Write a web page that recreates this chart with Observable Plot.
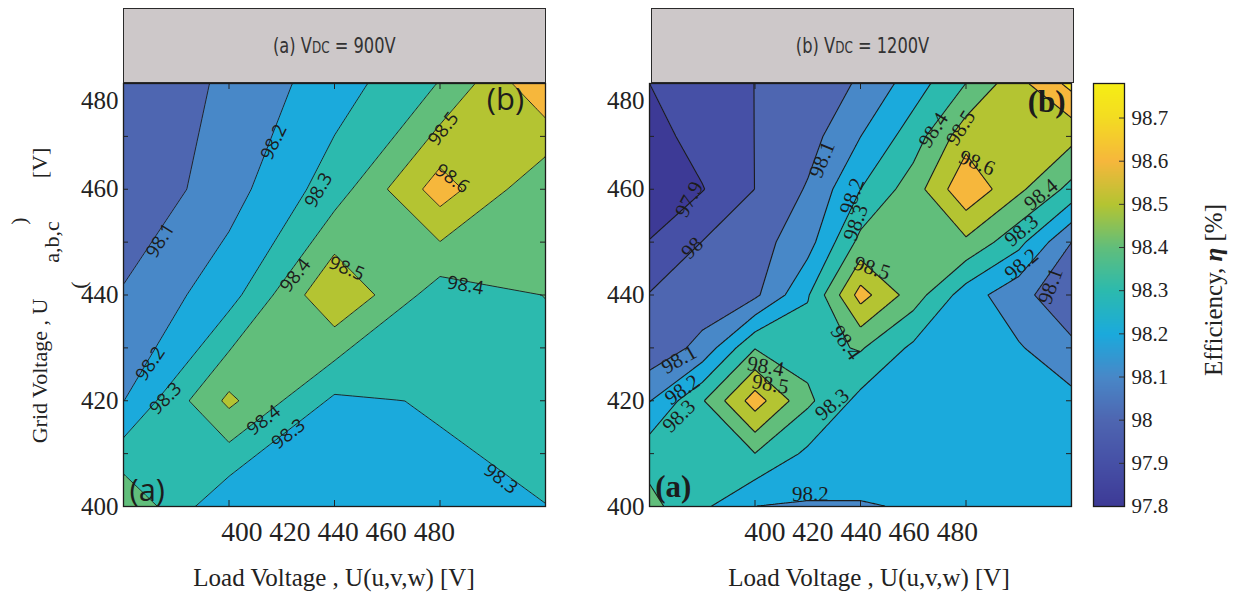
<!DOCTYPE html>
<html><head><meta charset="utf-8">
<script src="https://cdn.jsdelivr.net/npm/d3@7"></script>
<script src="https://cdn.jsdelivr.net/npm/@observablehq/plot@0.6"></script>
<style>
body{margin:0;background:#fff;}
#root{position:relative;width:1234px;height:594px;overflow:hidden;font-family:"Liberation Serif",serif;color:#222;}
#root svg{position:absolute;top:0;}
.pa g[aria-label="y-axis tick label"]{font-family:"Liberation Serif",serif;font-size:25px;}
.cb g[aria-label="y-axis tick label"]{font-family:"Liberation Serif",serif;font-size:21px;}
.hdr{position:absolute;box-sizing:border-box;background:#cdc8c9;border:1.5px solid #2a2a2a;display:flex;align-items:center;justify-content:center;font-family:"Liberation Sans Narrow","DejaVu Sans Condensed","Liberation Sans",sans-serif;font-size:21px;color:#333;}
.hdr span{display:inline-block;transform:scaleX(0.86);}
.hdr small{font-size:0.74em;}
.t{position:absolute;white-space:nowrap;line-height:1;transform:translate(-50%,-50%);}
.r{position:absolute;white-space:nowrap;line-height:1;transform:translate(-50%,-50%) rotate(-90deg);}
</style></head><body><div id="root"></div><script>
// ---------- data ----------
const loadVoltageA = [400, 420, 440, 460, 480];
const gridVoltageA = [400, 420, 440, 460, 480];
// rows = grid voltage (ascending), columns = load voltage (ascending)
const efficiencyA = [
  [98.49, 98.211, 98.25, 98.27, 98.2985],
  [98.198, 98.523, 98.281, 98.3096, 98.35],
  [98.11, 98.26, 98.595, 98.347, 98.402],
  [98.01, 98.16, 98.35, 98.65, 98.415],
  [98.003, 98.122, 98.252, 98.405, 98.69]
];
const loadVoltageB = [400, 410, 420, 430, 440, 450, 460, 470, 480];
const gridVoltageB = [400, 410, 420, 430, 440, 450, 460, 470, 480];
const efficiencyB = [
  [98.43, 98.32, 98.199, 98.19, 98.195, 98.205, 98.22, 98.23, 98.24],
  [98.36, 98.37, 98.398, 98.28, 98.24, 98.23, 98.24, 98.25, 98.25],
  [98.195, 98.39, 98.65, 98.42, 98.27, 98.26, 98.25, 98.24, 98.23],
  [98.03, 98.13, 98.395, 98.36, 98.41, 98.28, 98.25, 98.21, 98.12],
  [98.005, 98.04, 98.08, 98.29, 98.64, 98.45, 98.25, 98.13, 98.03],
  [97.905, 98.002, 98.06, 98.16, 98.43, 98.47, 98.48, 98.33, 98.10],
  [97.81, 97.895, 98.001, 98.11, 98.30, 98.45, 98.68, 98.52, 98.37],
  [97.86, 97.94, 98.001, 98.06, 98.199, 98.35, 98.56, 98.57, 98.53],
  [97.9, 97.95, 98.001, 98.05, 98.11, 98.25, 98.401, 98.57, 98.73]
];
const contourLevels = [97.8, 97.9, 98.0, 98.1, 98.2, 98.3, 98.4, 98.5, 98.6, 98.7];
const colorStops = [97.8, 97.9, 98.0, 98.1, 98.2, 98.3, 98.4, 98.5, 98.6, 98.7, 98.78];
const colorValues = ["#3d3a96", "#4650a6", "#4e66b1", "#4888c8", "#1baadc", "#2cbaae", "#61be7b", "#b4c432", "#f6b73c", "#f3dc22", "#f6ee14"];
const colorbarTicks = [97.8, 97.9, 98.0, 98.1, 98.2, 98.3, 98.4, 98.5, 98.6, 98.7];
const yTickLabels = [400, 420, 440, 460];
const yTopLabel = [480];
const yMinorTicks = [400, 410, 420, 430, 440, 450, 460, 470, 480];
const xMinorTicks = [420, 440, 460];
const labelsA = [
  {text: "98.1", x: 407.0, y: 450.3, angle: -58},
  {text: "98.2", x: 428.5, y: 468.9, angle: -64},
  {text: "98.3", x: 437.0, y: 459.8, angle: -60},
  {text: "98.4", x: 432.6, y: 443.7, angle: -52},
  {text: "98.5", x: 442.3, y: 445.0, angle: 22},
  {text: "98.4", x: 464.8, y: 441.8, angle: 10},
  {text: "98.5", x: 460.7, y: 471.4, angle: -52},
  {text: "98.6", x: 462.3, y: 462.0, angle: 35},
  {text: "98.2", x: 405.1, y: 427.0, angle: -56},
  {text: "98.3", x: 408.0, y: 420.4, angle: -45},
  {text: "98.4", x: 426.6, y: 416.3, angle: -38},
  {text: "98.3", x: 431.3, y: 413.7, angle: -38},
  {text: "98.3", x: 471.5, y: 405.2, angle: 37}
];
const labelsB = [
  {text: "97.9", x: 407.5, y: 458.1, angle: -62},
  {text: "98", x: 408.1, y: 448.9, angle: -45},
  {text: "98.1", x: 432.7, y: 465.6, angle: -68},
  {text: "98.2", x: 438.4, y: 458.7, angle: -70},
  {text: "98.3", x: 439.1, y: 453.7, angle: -70},
  {text: "98.4", x: 453.8, y: 471.2, angle: -58},
  {text: "98.5", x: 459.0, y: 471.6, angle: -58},
  {text: "98.6", x: 462.1, y: 465.0, angle: 22},
  {text: "98.4", x: 474.2, y: 459.0, angle: -40},
  {text: "98.3", x: 470.5, y: 452.2, angle: -40},
  {text: "98.2", x: 470.5, y: 445.8, angle: -40},
  {text: "98.1", x: 476.0, y: 441.7, angle: -70},
  {text: "98.5", x: 442.2, y: 445.1, angle: 18},
  {text: "98.4", x: 437.2, y: 431.0, angle: 55},
  {text: "98.1", x: 405.6, y: 427.8, angle: -30},
  {text: "98.2", x: 406.2, y: 422.1, angle: -35},
  {text: "98.3", x: 405.6, y: 417.1, angle: -45},
  {text: "98.4", x: 422.0, y: 426.5, angle: 10},
  {text: "98.5", x: 422.9, y: 423.1, angle: 10},
  {text: "98.3", x: 434.6, y: 419.3, angle: -40},
  {text: "98.2", x: 430.5, y: 402.3, angle: 0}
];
const cornersA = [{text: "(b)", x: 472.4, y: 476.8}, {text: "(a)", x: 404.5, y: 403.0}];
const cornersB = [{text: "(b)", x: 475.3, y: 476.4}, {text: "(a)", x: 404.5, y: 403.6}];

// ---------- field with straight contour segments inside each grid cell (as contourf draws them) ----------
function cellField(xs, ys, Z) {
  const idx = (arr, v) => Math.max(0, Math.min(arr.length - 2, d3.bisectRight(arr, v) - 1));
  const clamp = t => Math.max(0, Math.min(1, t));
  const C = [[0, 0], [1, 0], [1, 1], [0, 1]];
  const cross = (k, m, vals, L) => {
    const t = (L - vals[k]) / (vals[m] - vals[k]);
    return [C[k][0] + t * (C[m][0] - C[k][0]), C[k][1] + t * (C[m][1] - C[k][1])];
  };
  const side = (p1, p2, q) => (p2[0] - p1[0]) * (q[1] - p1[1]) - (p2[1] - p1[1]) * (q[0] - p1[0]);
  function high(P, vals, L) {
    const h = [vals[0] >= L, vals[1] >= L, vals[2] >= L, vals[3] >= L];
    const n = h[0] + h[1] + h[2] + h[3];
    if (n === 0) return false;
    if (n === 4) return true;
    if (n === 2 && h[0] === h[2]) {
      const m = (vals[0] + vals[1] + vals[2] + vals[3]) / 4;
      const cutHigh = m < L;
      for (let k = 0; k < 4; k++) {
        if (h[k] !== cutHigh) continue;
        const p1 = cross(k, (k + 3) % 4, vals, L), p2 = cross(k, (k + 1) % 4, vals, L);
        if (side(p1, p2, C[k]) * side(p1, p2, P) > 0) return cutHigh;
      }
      return !cutHigh;
    }
    const pts = [];
    for (let k = 0; k < 4; k++) {
      const m = (k + 1) % 4;
      if (h[k] !== h[m]) pts.push(cross(k, m, vals, L));
    }
    let top = 0;
    for (let k = 1; k < 4; k++) if (vals[k] > vals[top]) top = k;
    return side(pts[0], pts[1], C[top]) * side(pts[0], pts[1], P) >= 0;
  }
  return (x, y) => {
    const i = idx(xs, x), j = idx(ys, y);
    const P = [clamp((x - xs[i]) / (xs[i + 1] - xs[i])), clamp((y - ys[j]) / (ys[j + 1] - ys[j]))];
    const vals = [Z[j][i], Z[j][i + 1], Z[j + 1][i + 1], Z[j + 1][i]];
    let lo = Math.min(vals[0], vals[1], vals[2], vals[3]);
    let hi = Math.max(vals[0], vals[1], vals[2], vals[3]);
    if (hi - lo < 1e-12) return lo;
    for (let it = 0; it < 24; it++) {
      const mid = (lo + hi) / 2;
      if (high(P, vals, mid)) lo = mid; else hi = mid;
    }
    return lo;
  };
}
const colorScale = {type: "linear", domain: colorStops, range: colorValues, interpolate: "rgb"};
const fmt = d => String(Math.round(d * 10) / 10);

function panel(xs, ys, Z, labels, corners, labelFont, labelSize, cornerFont, cornerWeight, lineWidth) {
  const W = 422;
  return Plot.plot({
    width: 555, height: 520,
    marginLeft: 123, marginTop: 83, marginRight: 10, marginBottom: 14,
    className: "pa",
    x: {domain: [400, 480], axis: null},
    y: {domain: [400, 480], axis: null},
    color: colorScale,
    style: {background: "transparent", overflow: "visible", fontFamily: "'Liberation Serif', serif"},
    marks: [
      Plot.contour({x1: 400, x2: 480, y1: 400, y2: 480, fill: cellField(xs, ys, Z), thresholds: contourLevels,
        stroke: "#1c1c1c", strokeWidth: lineWidth, pixelSize: 1, clip: true}),
      Plot.text(labels, {x: "x", y: "y", text: "text", rotate: "angle", fontSize: labelSize, fontFamily: labelFont, fill: "#1c1c1c"}),
      Plot.text(corners, {x: "x", y: "y", text: "text", fontSize: 31, fontFamily: cornerFont, fontWeight: cornerWeight, fill: "#1c1c1c"}),
      Plot.tickY(yMinorTicks, {insetRight: W - 5, stroke: "#222"}),
      Plot.tickY(yMinorTicks, {insetLeft: W - 5, stroke: "#222"}),
      Plot.tickX(xMinorTicks, {insetTop: W - 5, stroke: "#222"}),
      Plot.tickX(xMinorTicks, {insetBottom: W - 5, stroke: "#222"}),
      Plot.frame({stroke: "#1c1c1c", strokeWidth: 1.3}),
      Plot.axisY({ticks: yTickLabels, tickSize: 0, tickPadding: 5, label: null, fontSize: 25, fill: "#222"}),
      Plot.axisY({ticks: yTopLabel, tickSize: 0, tickPadding: 5, label: null, dy: 17, fontSize: 25, fill: "#222"})
    ]
  });
}

const root = document.getElementById("root");
const svgA = panel(loadVoltageA, gridVoltageA, efficiencyA, labelsA, cornersA, "'Open Sans', sans-serif", 18.5, "'Open Sans', sans-serif", 400, 0.9);
svgA.style.left = "0px";
root.appendChild(svgA);
const svgB = panel(loadVoltageB, gridVoltageB, efficiencyB, labelsB, cornersB, "'Liberation Serif', serif", 21, "'Liberation Serif', serif", 700, 1.1);
svgB.style.left = "526px";
root.appendChild(svgB);

const bar = Plot.plot({
  width: 154, height: 520,
  marginLeft: 13, marginRight: 110, marginTop: 83, marginBottom: 14,
  className: "cb",
  x: {domain: [0, 1], axis: null},
  y: {domain: [97.8, 98.78], axis: null},
  color: colorScale,
  style: {background: "transparent", overflow: "visible", fontFamily: "'Liberation Serif', serif"},
  marks: [
    Plot.raster({x1: 0, x2: 1, y1: 97.8, y2: 98.78, fill: (x, y) => y, pixelSize: 1}),
    Plot.tickY(colorbarTicks, {insetLeft: 26, stroke: "#333"}),
    Plot.frame({stroke: "#1c1c1c", strokeWidth: 1.3}),
    Plot.axisY({anchor: "right", ticks: colorbarTicks, tickFormat: fmt, tickSize: 0, tickPadding: 7, label: null, fontSize: 21, fill: "#222"})
  ]
});
bar.style.left = "1080px";
root.appendChild(bar);

// ---------- text overlays ----------
function add(cls, html, x, y, css) {
  const d = document.createElement("div");
  d.className = cls; d.innerHTML = html;
  d.style.left = x + "px"; d.style.top = y + "px";
  Object.assign(d.style, css || {});
  root.appendChild(d);
  return d;
}
add("hdr", "<span>(a) V<small>DC</small>&nbsp;= 900V</span>", 123, 8, {width: "423px", height: "75px"});
add("hdr", "<span>(b) V<small>DC</small>&nbsp;= 1200V</span>", 651, 8, {width: "423px", height: "75px"});
add("t", "400 420 440 460 480", 338, 532, {fontSize: "27.5px"});
add("t", "400 420 440 460 480", 861, 532, {fontSize: "27.5px"});
add("t", "Load Voltage , U(u,v,w) [V]", 334, 577, {fontSize: "25px"});
add("t", "Load Voltage , U(u,v,w) [V]", 869, 577, {fontSize: "25px"});
add("r", "Grid Voltage , U", 40, 371, {fontSize: "22px"});
add("r", "a,b,c", 52, 242, {fontSize: "22px"});
add("r", "[V]", 40, 163, {fontSize: "22px"});
add("r", ")", 19, 221, {fontSize: "22px"});
add("r", "(", 79, 285, {fontSize: "22px"});
add("r", "Efficiency, <b><i>&eta;</i></b> [%]", 1213, 290, {fontSize: "25px"});
</script></body></html>
